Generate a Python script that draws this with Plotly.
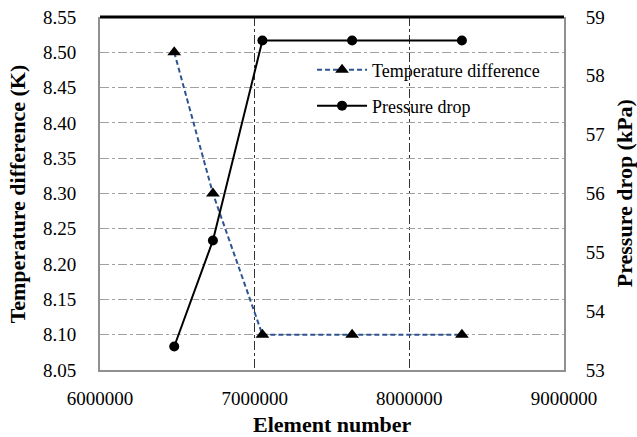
import plotly.graph_objects as go

elements = [6480000, 6730000, 7050000, 7630000, 8340000]
temp_diff = [8.50, 8.30, 8.10, 8.10, 8.10]
pressure_drop = [53.4, 55.2, 58.6, 58.6, 58.6]

x_ticks = [6000000, 7000000, 8000000, 9000000]
y1_ticks = [8.05, 8.10, 8.15, 8.20, 8.25, 8.30, 8.35, 8.40, 8.45, 8.50, 8.55]
y2_ticks = [53, 54, 55, 56, 57, 58, 59]

FONT = "Liberation Serif"
TICKFONT = dict(family=FONT, size=19, color="black")
TITLEFONT = dict(family=FONT, size=22, color="black")

fig = go.Figure()
fig.add_trace(go.Scatter(
    x=elements, y=temp_diff, name="Temperature difference",
    mode="lines+markers",
    line=dict(color="#2c5590", width=2, dash="5px,3px"),
    marker=dict(symbol="triangle-up", size=12, color="black"),
    yaxis="y", legend="legend"))
fig.add_trace(go.Scatter(
    x=elements, y=pressure_drop, name="Pressure drop",
    mode="lines+markers",
    line=dict(color="black", width=2),
    marker=dict(symbol="circle", size=10, color="black"),
    yaxis="y2", legend="legend2"))

legend_common = dict(xanchor="left", yanchor="middle", bgcolor="rgba(0,0,0,0)",
                     font=dict(size=18, family=FONT, color="black"), itemwidth=50)

fig.update_layout(
    width=637, height=437,
    margin=dict(l=100, r=73, t=17, b=67, autoexpand=False),
    paper_bgcolor="white", plot_bgcolor="white",
    font=dict(family=FONT, size=19, color="black"),
    showlegend=True,
    legend=dict(x=0.457, y=0.85, **legend_common),
    legend2=dict(x=0.457, y=0.748, **legend_common),
    xaxis=dict(
        range=[6000000, 9000000], tickvals=x_ticks,
        ticktext=[str(v) for v in x_ticks], tickfont=TICKFONT,
        showgrid=True, gridcolor="#333333", griddash="dashdot", gridwidth=1,
        showline=True, linecolor="#909090", linewidth=2, mirror=False,
        ticks="", zeroline=False, ticklabelstandoff=10, automargin=False,
    ),
    yaxis=dict(
        range=[8.05, 8.55], tickvals=y1_ticks,
        ticktext=[f"{v:.2f}" for v in y1_ticks], tickfont=TICKFONT,
        showgrid=True, gridcolor="#a0a0a0", griddash="dashdot", gridwidth=1,
        showline=True, linecolor="#909090", linewidth=2,
        ticks="", zeroline=False, ticklabelstandoff=18, automargin=False,
    ),
    yaxis2=dict(
        range=[53, 59], tickvals=y2_ticks, tickfont=TICKFONT,
        overlaying="y", side="right",
        showgrid=False, showline=True, linecolor="#909090", linewidth=2,
        ticks="", zeroline=False, ticklabelstandoff=16, automargin=False,
    ),
    annotations=[
        dict(text="<b>Element number</b>", xref="paper", yref="paper", x=0.5, y=-0.155,
             xanchor="center", yanchor="middle", showarrow=False, font=TITLEFONT),
        dict(text="<b>Temperature difference (K)</b>", xref="paper", yref="paper",
             x=-0.177, y=0.5, xanchor="center", yanchor="middle", textangle=-90,
             showarrow=False, font=TITLEFONT),
        dict(text="<b>Pressure drop (kPa)</b>", xref="paper", yref="paper",
             x=1.131, y=0.5, xanchor="center", yanchor="middle", textangle=-90,
             showarrow=False, font=TITLEFONT),
    ],
)
fig.add_shape(type="line", xref="paper", yref="paper", x0=0, x1=1, y0=1, y1=1,
              line=dict(color="black", width=3))

fig.write_html("out.html", config={"displayModeBar": False},
               post_script="document.body.style.margin='0';document.body.style.padding='0';")
